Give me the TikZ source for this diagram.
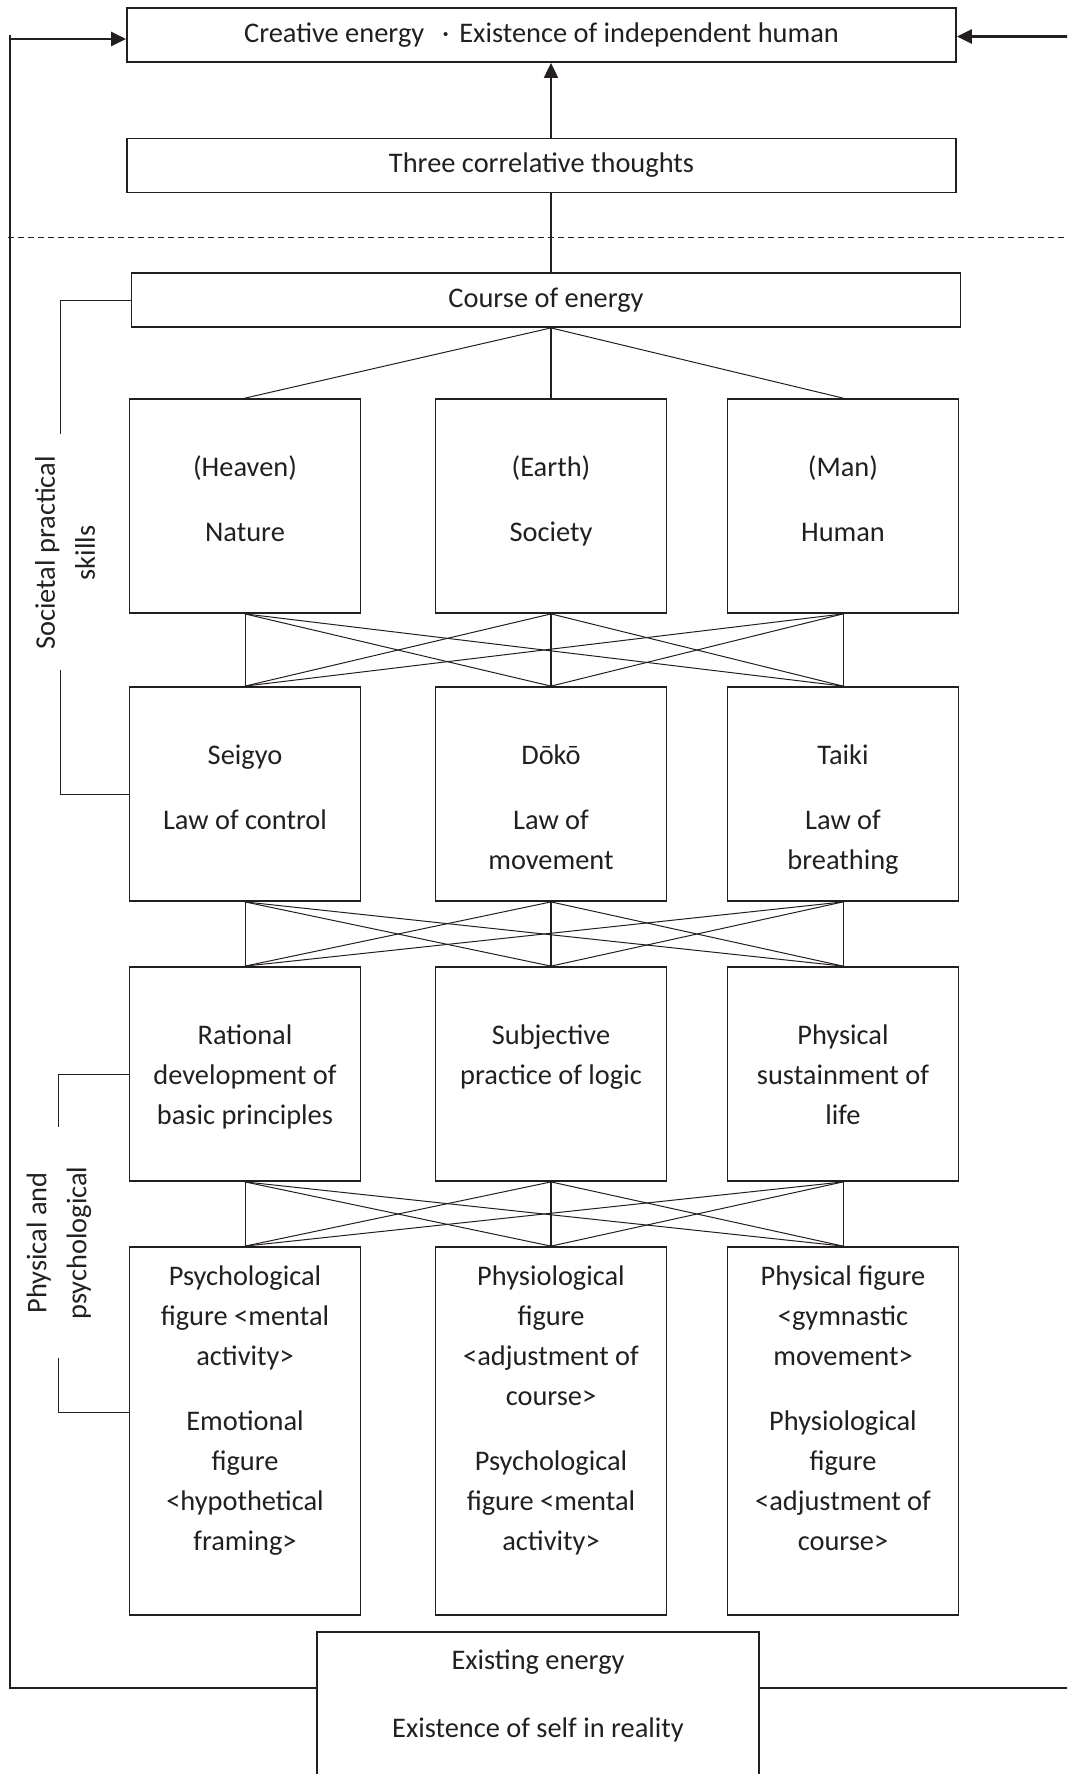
\documentclass[tikz,border=0pt]{standalone}
\usepackage{fontspec}
\setmainfont{Carlito}
\usetikzlibrary{arrows.meta}
\definecolor{ink}{HTML}{231F20}
\newcommand\fnt{\fontsize{14.2pt}{20pt}\selectfont}
\newcommand\fst{\rule{0pt}{12pt}}
\begin{document}
\begin{tikzpicture}[x=0.5pt,y=-0.5pt,
 box/.style={draw=ink, line width=0.9pt, inner sep=0, minimum width=115.5pt, minimum height=107pt},
 wbox/.style={draw=ink, line width=0.9pt, inner sep=0, minimum width=414.5pt, minimum height=27pt, font=\fnt, text=ink},
 tallbox/.style={box, minimum height=184pt},
 txt/.style={inner sep=0, align=center, font=\fnt, text=ink, anchor=north},
 xlink/.style={draw=ink, line width=0.5pt},
 midlink/.style={draw=ink, line width=0.9pt},
 fbline/.style={draw=ink, line width=0.9pt},
 arr/.style={-{Triangle[length=7.5pt,width=7pt]}}]
\useasboundingbox (0,0) rectangle (1067,1774);
\clip (0,0) rectangle (1067,1774);

% top boxes
\node[wbox] (creative) at (541.5,35) {Creative energy\hspace{9pt}·\hspace{5pt}Existence of independent human};
\node[wbox] (three) at (541.5,165.5) {Three correlative thoughts};
\node[wbox] (course) at (546,300) {Course of energy};

% row 1
\node[box] (n1) at (245,506) {};
\node[box] (s1) at (551,506) {};
\node[box] (h1) at (843,506) {};
\node[txt] (tn1) at ([yshift=-27pt]n1.north) {\fst(Heaven)\\[12.5pt]Nature};
\node[txt] (ts1) at ([yshift=-27pt]s1.north) {\fst(Earth)\\[12.5pt]Society};
\node[txt] (th1) at ([yshift=-27pt]h1.north) {\fst(Man)\\[12.5pt]Human};

% row 2
\node[box] (r2a) at (245,794) {};
\node[box] (r2b) at (551,794) {};
\node[box] (r2c) at (843,794) {};
\node[txt] (t2a) at ([yshift=-27pt]r2a.north) {\fst Seigyo\\[12.5pt]Law of control};
\node[txt] (t2b) at ([yshift=-27pt]r2b.north) {\fst Dōkō\\[12.5pt]Law of\\movement};
\node[txt] (t2c) at ([yshift=-27pt]r2c.north) {\fst Taiki\\[12.5pt]Law of\\breathing};

% row 3
\node[box] (r3a) at (245,1074) {};
\node[box] (r3b) at (551,1074) {};
\node[box] (r3c) at (843,1074) {};
\node[txt] (t3a) at ([yshift=-27pt]r3a.north) {\fst Rational\\development of\\basic principles};
\node[txt] (t3b) at ([yshift=-27pt]r3b.north) {\fst Subjective\\practice of logic};
\node[txt] (t3c) at ([yshift=-27pt]r3c.north) {\fst Physical\\sustainment of\\life};

% row 4
\node[tallbox] (r4a) at (245,1431) {};
\node[tallbox] (r4b) at (551,1431) {};
\node[tallbox] (r4c) at (843,1431) {};
\node[txt] (t4a) at ([yshift=-7.5pt]r4a.north) {\fst Psychological\\figure <mental\\activity>\\[12.5pt]Emotional\\figure\\<hypothetical\\framing>};
\node[txt] (t4b) at ([yshift=-7.5pt]r4b.north) {\fst Physiological\\figure\\<adjustment of\\course>\\[12.5pt]Psychological\\figure <mental\\activity>};
\node[txt] (t4c) at ([yshift=-7.5pt]r4c.north) {\fst Physical figure\\<gymnastic\\movement>\\[12.5pt]Physiological\\figure\\<adjustment of\\course>};

% bottom box
\node[draw=ink, line width=0.9pt, inner sep=0, minimum width=221pt, minimum height=100pt] (ex) at (538,1732) {};
\node[txt] (tex) at ([yshift=-7pt]ex.north) {\fst Existing energy\\[14pt]Existence of self in reality};

% side labels
\node[txt, anchor=center, rotate=90] (lab1) at (65,553) {Societal practical\\skills};
\node[txt, anchor=center, rotate=90] (lab2) at (59,1243) {Physical and\\psychological};

% trunk
\draw[fbline, line width=1pt, arr] (three.north -| s1.north) -- (creative.south -| s1.north);
\draw[midlink] (three.south -| s1.north) -- (course.north -| s1.north);
\coordinate (cs) at (course.south -| s1.north);
\draw[xlink] (cs) -- (n1.north);
\draw[midlink] (cs) -- (s1.north);
\draw[xlink] (cs) -- (h1.north);

% cross links
\foreach \a in {n1,s1,h1}{\foreach \b in {r2a,r2b,r2c}{\draw[xlink] (\a.south) -- (\b.north);}}
\foreach \a in {r2a,r2b,r2c}{\foreach \b in {r3a,r3b,r3c}{\draw[xlink] (\a.south) -- (\b.north);}}
\foreach \a in {r3a,r3b,r3c}{\foreach \b in {r4a,r4b,r4c}{\draw[xlink] (\a.south) -- (\b.north);}}
\draw[midlink] (s1.south) -- (r2b.north);
\draw[midlink] (r2b.south) -- (r3b.north);
\draw[midlink] (r3b.south) -- (r4b.north);

% dashed separator
\coordinate (dl) at (8,237);
\coordinate (dr) at (1075,237);
\draw[ink, line width=0.5pt, dash pattern=on 3pt off 2pt] (dl) -- (dr);

% brackets
\coordinate (b1a) at (60,434);
\coordinate (b1b) at (60,670);
\draw[xlink] (course.west) -| (b1a);
\draw[xlink] (b1b) |- (r2a.west);
\coordinate (b2a) at (58.5,1127);
\coordinate (b2b) at (58.5,1358);
\draw[xlink] (r3a.west) -| (b2a);
\draw[xlink] (b2b) |- ([yshift=9.5pt]r4a.west);

% feedback lines
\coordinate (fl) at (10,1688);
\coordinate (fr) at (1075,1688);
\coordinate (fr2) at (1075,36.5);
\draw[fbline] (fl -| ex.west) -- (fl) -- (fl |- creative.west);
\draw[fbline, line width=1.2pt, arr] ([yshift=-2pt]fl |- creative.west) -- ([yshift=-2pt]creative.west);
\draw[fbline] (ex.east |- fr) -- (fr);
\draw[fbline, line width=1.2pt, arr] (fr2) -- ([yshift=-0.75pt]creative.east);
\end{tikzpicture}
\end{document}
